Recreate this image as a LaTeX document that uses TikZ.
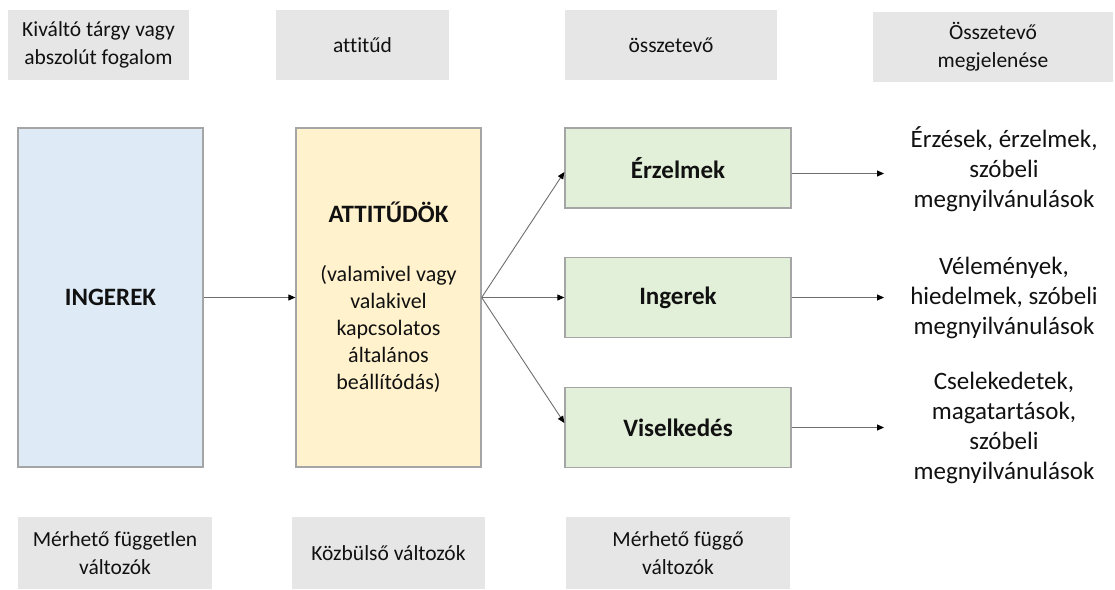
\documentclass[tikz,border=0pt]{standalone}
\usepackage{fontspec}
\setmainfont{Carlito}[Ligatures={NoCommon}]
\usetikzlibrary{arrows.meta,calc}

\definecolor{txt}{HTML}{111111}
\definecolor{hdrfill}{HTML}{E7E6E6}
\definecolor{bluefill}{HTML}{DEEBF7}
\definecolor{yellowfill}{HTML}{FFF2CC}
\definecolor{greenfill}{HTML}{E2F0D9}
\definecolor{edge}{HTML}{A5A5A5}
\definecolor{wire}{HTML}{6E6E6E}

\tikzset{
  hdr/.style={fill=hdrfill, draw=none, inner sep=0pt, align=center, text=txt,
    font=\fontsize{21.5}{28}\selectfont},
  bigbox/.style={draw=edge, line width=1.3pt, inner sep=0pt, align=center, text=txt,
    minimum width=185pt, minimum height=339pt},
  compbox/.style={draw=edge, line width=1.3pt, fill=greenfill, inner sep=0pt, text=txt,
    minimum width=226pt, minimum height=80pt, font=\fontsize{25}{30}\selectfont\bfseries},
  desc/.style={align=center, text=txt, inner sep=0pt, font=\fontsize{25}{30}\selectfont},
  conn/.style={draw=wire, line width=0.9pt, -{Triangle[length=7pt,width=6pt,color=black]}}
}

\begin{document}
\begin{tikzpicture}[x=1pt,y=-1pt]
  \useasboundingbox (0,0) rectangle (1115,589);

  % column headers
  \node[hdr, minimum width=181pt, minimum height=70pt] (h1) at (98.5,45) {Kiváltó tárgy vagy\\abszolút fogalom};
  \node[hdr, minimum width=173pt, minimum height=70pt] (h2) at (362.5,45) {attitűd};
  \node[hdr, minimum width=212pt, minimum height=70pt] (h3) at (671,45) {összetevő};
  \node[hdr, minimum width=240pt, minimum height=70pt] (h4) at (993,47) {Összetevő\\megjelenése};

  % main boxes
  \node[bigbox, fill=bluefill, font=\fontsize{25}{30}\selectfont\bfseries] (ing) at (110.5,297.5) {INGEREK};
  \node[bigbox, fill=yellowfill, font=\fontsize{22}{27}\selectfont] (att) at (388.5,297.5)
    {{\fontsize{25}{30}\selectfont\bfseries ATTITŰDÖK}\\[32pt](valamivel vagy\\valakivel\\kapcsolatos\\általános\\beállítódás)};

  % components
  \node[compbox] (erz) at (678,168) {Érzelmek};
  \node[compbox] (ingr) at (678,297.5) {Ingerek};
  \node[compbox] (vis) at (678,427.5) {Viselkedés};

  % manifestations
  \node[desc] (d1) at (1004,169) {Érzések, érzelmek,\\szóbeli\\megnyilvánulások};
  \node[desc] (d2) at (1004,298) {Vélemények,\\hiedelmek, szóbeli\\megnyilvánulások};
  \node[desc] (d3) at (1004,428) {Cselekedetek,\\magatartások,\\szóbeli\\megnyilvánulások};

  % variable types
  \node[hdr, minimum width=194pt, minimum height=72pt] (b1) at (115,553) {Mérhető független\\változók};
  \node[hdr, minimum width=193pt, minimum height=72pt] (b2) at (388.5,553) {Közbülső változók};
  \node[hdr, minimum width=224pt, minimum height=72pt] (b3) at (678,553) {Mérhető függő\\változók};

  % connector end points
  \coordinate (e1) at ($(erz.west)+(0,4)$);
  \coordinate (e3) at ($(vis.west)+(0,-4.5)$);
  \coordinate (o1) at ($(erz.east)+(0,5.5)$);
  \coordinate (t1) at (884,173.5);
  \coordinate (t2) at (884,297.5);
  \coordinate (t3) at (884,427.5);

  % connectors
  \draw[conn] (ing.east) -- (att.west);
  \draw[conn] (att.east) -- (e1);
  \draw[conn] (att.east) -- (ingr.west);
  \draw[conn] (att.east) -- (e3);
  \draw[conn] (o1) -- (t1);
  \draw[conn] (ingr.east) -- (t2);
  \draw[conn] (vis.east) -- (t3);
\end{tikzpicture}
\end{document}
